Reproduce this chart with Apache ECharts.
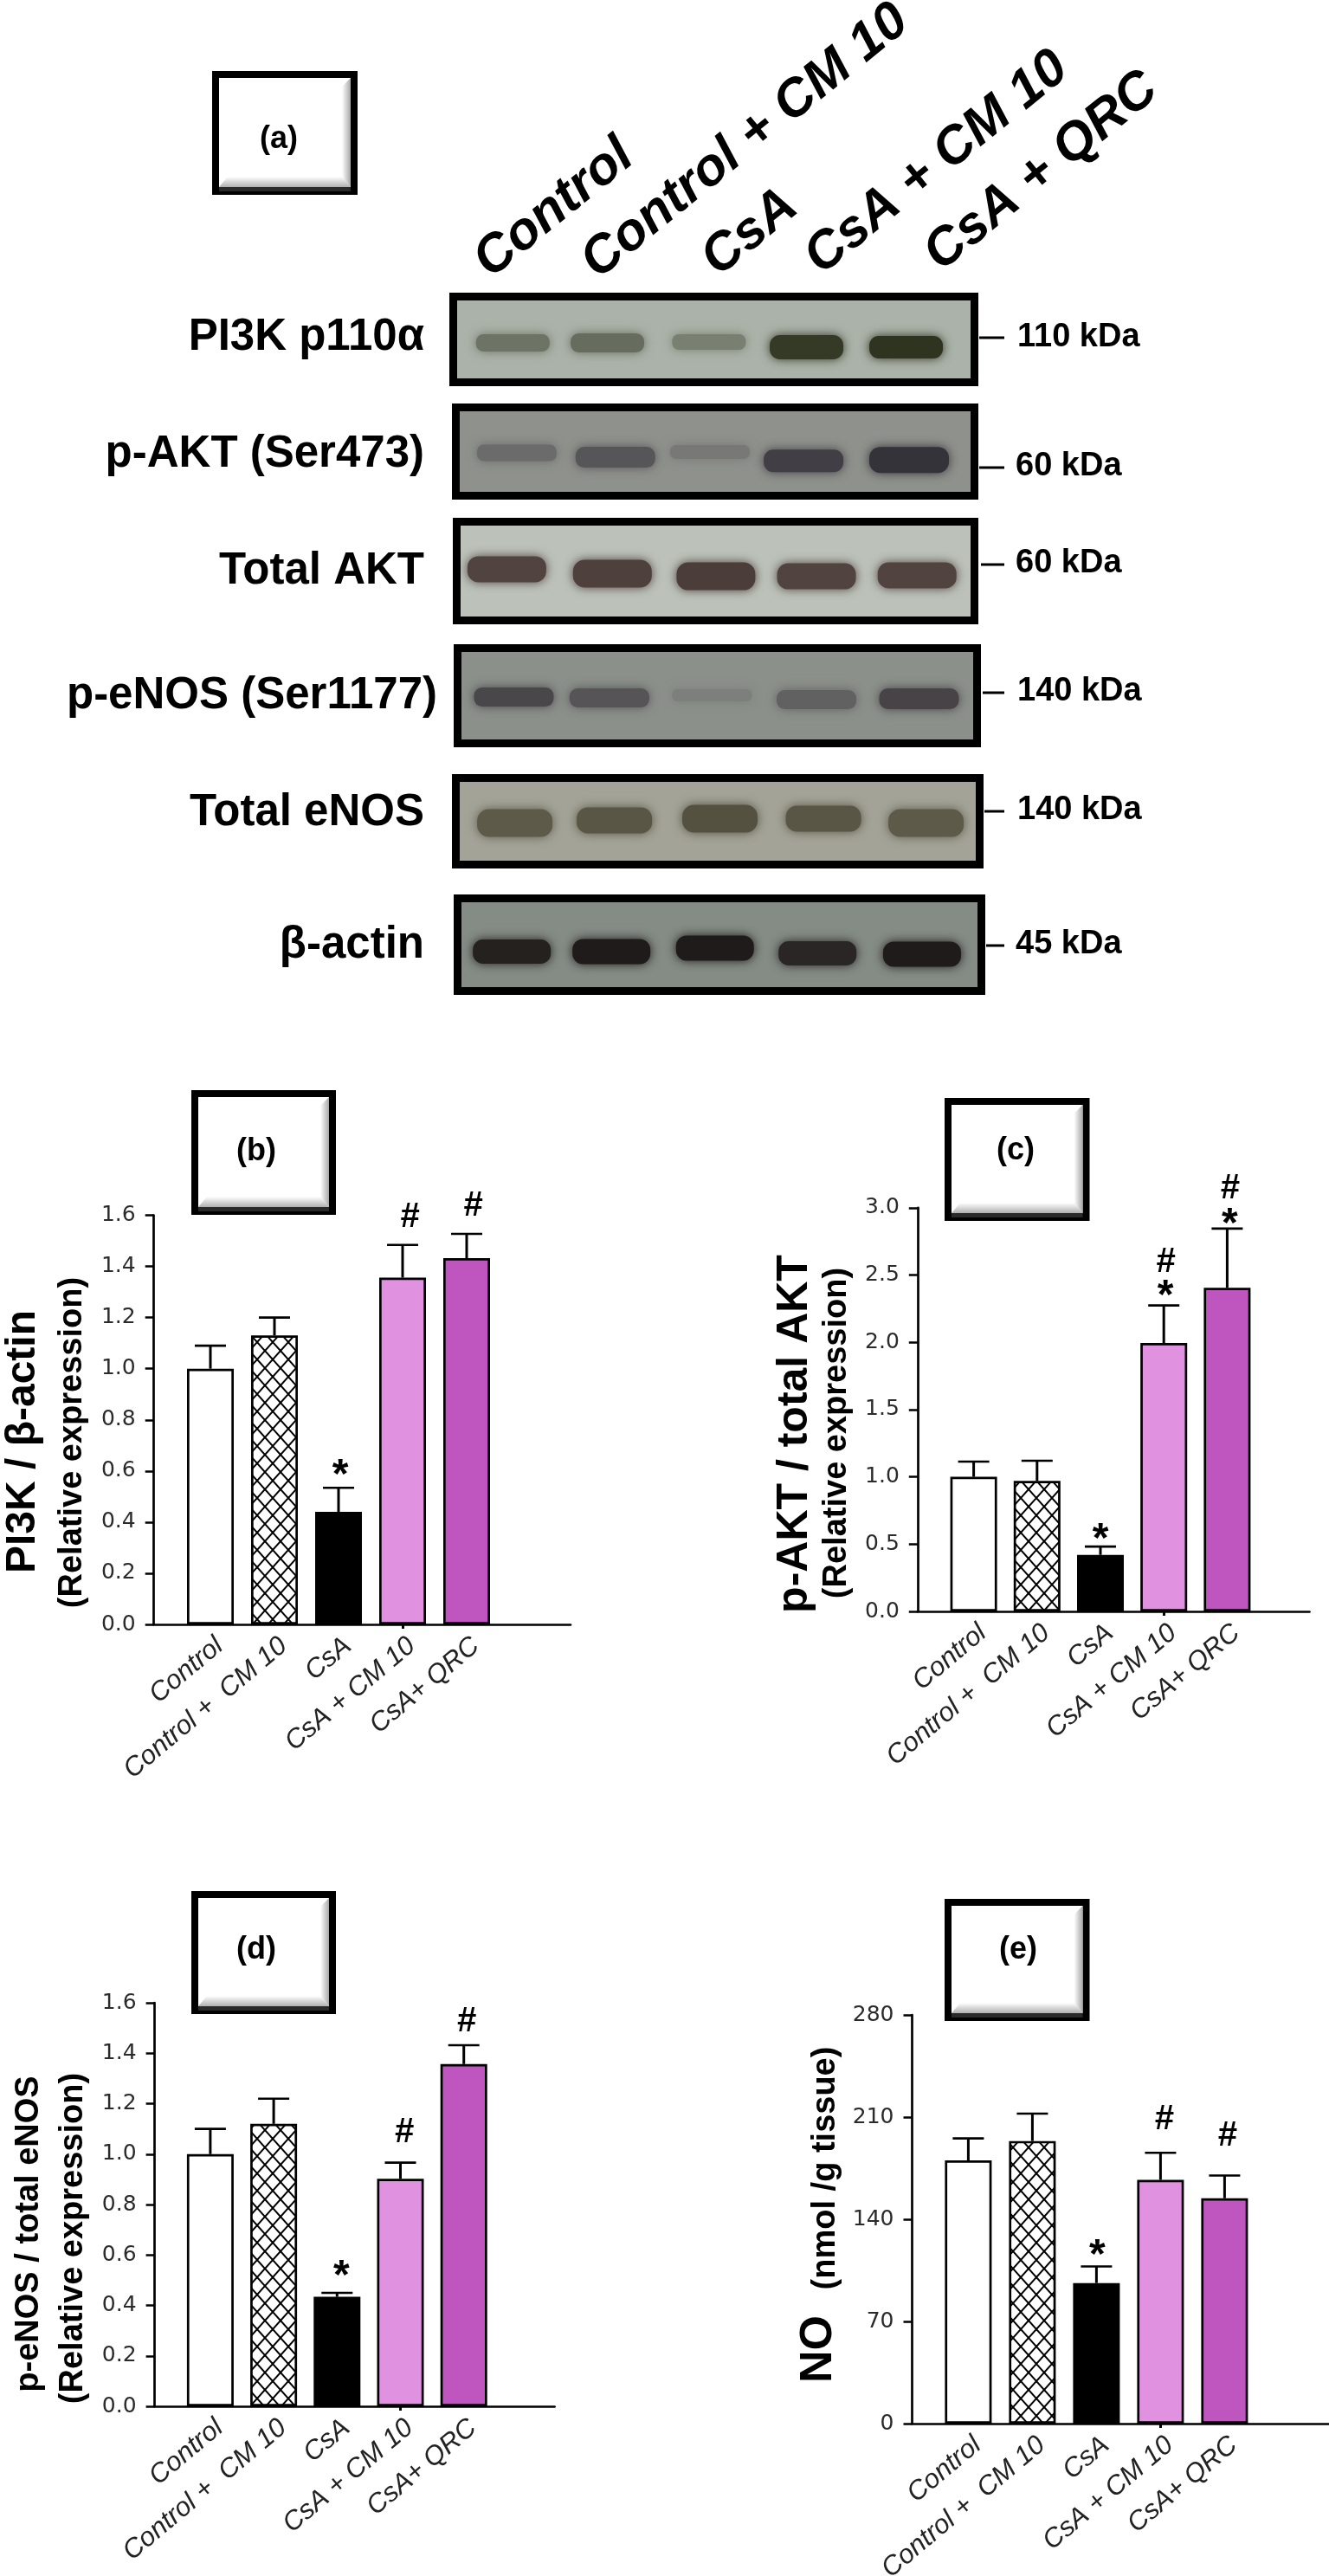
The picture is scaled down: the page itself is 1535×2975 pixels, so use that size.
<!DOCTYPE html>
<html><head><meta charset="utf-8"><title>Western blot and bar charts</title>
<style>html,body{margin:0;padding:0;background:#fff}#c{width:1535px;height:2975px}</style>
<script src="https://cdn.jsdelivr.net/npm/echarts@6/dist/echarts.min.js"></script>
</head><body><div id="c"></div>
<script>
// ---------- chart data ----------
const categories = ['Control', 'Control +  CM 10', 'CsA', 'CsA + CM 10', 'CsA+ QRC'];
const meanB = [1.00, 1.13, 0.44, 1.356, 1.432];
const upperB = [1.09, 1.20, 0.534, 1.484, 1.527];
const marksB = ['', '', '*', '#', '#'];
const meanC = [1.00, 0.97, 0.42, 1.995, 2.405];
const upperC = [1.113, 1.12, 0.482, 2.274, 2.845];
const marksC = ['', '', '*', '#*', '#*'];
const meanD = [1.00, 1.12, 0.434, 0.902, 1.357];
const upperD = [1.10, 1.22, 0.45, 0.966, 1.432];
const marksD = ['', '', '*', '#', '#'];
const meanE = [180.3, 193.6, 96.3, 167, 154.4];
const upperE = [195.4, 212.4, 107.7, 185.5, 170];
const marksE = ['', '', '*', '#', '#'];

// ---------- blot data: band density per lane ----------
const laneTitles = ['Control', 'Control + CM 10', 'CsA', 'CsA + CM 10', 'CsA + QRC'];
const blotNames = ['PI3K p110α', 'p-AKT (Ser473)', 'Total AKT', 'p-eNOS (Ser1177)', 'Total eNOS', 'β-actin'];
const blotSizes = ['110 kDa', '60 kDa', '60 kDa', '140 kDa', '140 kDa', '45 kDa'];
const densityPI3K = [.5, .55, .4, .95, 1];
const densityPAKT = [.4, .62, .25, .85, .98];
const densityTAKT = [.95, .98, 1, .95, .95];
const densityPENOS = [.85, .7, .2, .55, .9];
const densityTENOS = [.85, .9, .95, .9, .85];
const densityActin = [.95, 1, 1, .9, 1];
const lanePosPI3K = [.02, .97, 1.99, 2.97, 3.97];
const lanePosPAKT = [.06, 1.05, 2.0, 2.94, 4.0];
const lanePosTAKT = [-.04, 1.02, 2.06, 3.07, 4.08];
const lanePosPENOS = [.03, .99, 2.02, 3.07, 4.10];
const lanePosTENOS = [.04, 1.04, 2.10, 3.14, 4.17];
const lanePosActin = [.01, 1.01, 2.05, 3.08, 4.13];
const migrationPI3K = [.544, .544, .533, .60, .60];
const migrationPAKT = [.516, .571, .505, .615, .604];
const migrationTAKT = [.48, .529, .558, .558, .548];
const migrationPENOS = [.515, .525, .495, .545, .535];
const migrationTENOS = [.522, .489, .467, .467, .522];
const migrationActin = [.582, .582, .541, .602, .612];

// ---------- layout & style ----------
const FONT = '"Liberation Sans", Arial, sans-serif';
const fills = ['#ffffff', null, '#000000', '#e092e0', '#bf55bf'];

function hatch() {
  const w = 18, h = 20, c = document.createElement('canvas');
  c.width = w; c.height = h;
  const g = c.getContext('2d');
  g.fillStyle = '#fff'; g.fillRect(0, 0, w, h);
  g.strokeStyle = '#000'; g.lineWidth = 2;
  g.beginPath();
  g.moveTo(0, 0); g.lineTo(w, h);
  g.moveTo(w, 0); g.lineTo(0, h);
  g.stroke();
  return c;
}
const hatchFill = { image: hatch(), repeat: 'repeat' };

function mix(a, b, t) {
  const p = s => [1, 3, 5].map(i => parseInt(s.substr(i, 2), 16));
  const A = p(a), B = p(b);
  return 'rgb(' + A.map((v, i) => Math.round(v + (B[i] - v) * t)).join(',') + ')';
}

const blots = [
  { x: 519, y: 338, w: 611, h: 108, bg: '#abb2a9', ink: '#2f3420', bw: 85, thick: [20, 22, 18, 28, 26], density: densityPI3K, lane: lanePosPI3K, mig: migrationPI3K, labelR: 490, labelY: 390, sizeX: 1175, sizeY: 390, tickX: 1131, tickY: 390 },
  { x: 522, y: 466, w: 608, h: 111, bg: '#8f918c', ink: '#333138', bw: 92, thick: [19, 24, 16, 26, 30], density: densityPAKT, lane: lanePosPAKT, mig: migrationPAKT, labelR: 490, labelY: 525, sizeX: 1173, sizeY: 539, tickX: 1131, tickY: 540 },
  { x: 523, y: 598, w: 607, h: 123, bg: '#bcc2ba', ink: '#4b3d3a', bw: 91, thick: [30, 32, 32, 30, 30], density: densityTAKT, lane: lanePosTAKT, mig: migrationTAKT, labelR: 490, labelY: 660, sizeX: 1173, sizeY: 651, tickX: 1133, tickY: 652 },
  { x: 524, y: 744, w: 609, h: 119, bg: '#8b908a', ink: '#3f3a40', bw: 92, thick: [22, 22, 14, 22, 24], density: densityPENOS, lane: lanePosPENOS, mig: migrationPENOS, labelR: 505, labelY: 804, sizeX: 1175, sizeY: 799, tickX: 1135, tickY: 800 },
  { x: 522, y: 894, w: 614, h: 109, bg: '#a3a398', ink: '#514d3c', bw: 87, thick: [32, 30, 32, 30, 32], density: densityTENOS, lane: lanePosTENOS, mig: migrationTENOS, labelR: 490, labelY: 939, sizeX: 1175, sizeY: 936, tickX: 1137, tickY: 937 },
  { x: 524, y: 1033, w: 614, h: 116, bg: '#858c85', ink: '#1f1b1a', bw: 90, thick: [28, 29, 29, 28, 29], density: densityActin, lane: lanePosActin, mig: migrationActin, labelR: 490, labelY: 1092, sizeX: 1173, sizeY: 1091, tickX: 1139, tickY: 1092 }
];

const panels = [
  { mean: meanB, upper: upperB, marks: marksB, ymax: 1.6, step: 0.2, digits: 1, axisX: 177.7, top: 1403.5, bottom: 1876, right: 659, left: 206, width: 370,
    gapStar: [0, 0, 14, 0, 0], gapHash: [0, 0, 0, 32, 32], dx: [0, 0, 2, 8, 7] },
  { mean: meanC, upper: upperC, marks: marksC, ymax: 3, step: 0.5, digits: 1, axisX: 1059.8, top: 1394.8, bottom: 1861, right: 1512.5, left: 1088, width: 366,
    gapStar: [0, 0, 7, 10, 4], gapHash: [0, 0, 0, 50, 46], dx: [0, 0, 0, 2, 3] },
  { mean: meanD, upper: upperD, marks: marksD, ymax: 1.6, step: 0.2, digits: 1, axisX: 178.6, top: 2313, bottom: 2779, right: 640.6, left: 206.3, width: 366,
    gapStar: [0, 0, 18, 0, 0], gapHash: [0, 0, 0, 35, 26.5], dx: [0, 0, 5, 4, 3] },
  { mean: meanE, upper: upperE, marks: marksE, ymax: 280, step: 70, digits: 0, axisX: 1053.5, top: 2327, bottom: 2799, right: 1535, left: 1081.4, width: 370,
    gapStar: [0, 0, 12, 0, 0], gapHash: [0, 0, 0, 38, 45], dx: [0, 0, 1, 4, 3] }
];

const tags = [
  { t: '(a)', x: 245, y: 82, w: 168, h: 143, tx: 322, ty: 161 },
  { t: '(b)', x: 221, y: 1259, w: 167, h: 144, tx: 296, ty: 1330 },
  { t: '(c)', x: 1091, y: 1268, w: 167.5, h: 142, tx: 1173, ty: 1329 },
  { t: '(d)', x: 221, y: 2184, w: 167, h: 142, tx: 296, ty: 2252 },
  { t: '(e)', x: 1091, y: 2193, w: 167.5, h: 141, tx: 1176, ty: 2252 }
];

const yTitles = [
  { t: 'PI3K / β-actin', x: 27, y: 1665, size: 48 },
  { t: '(Relative expression)', x: 84, y: 1666, size: 38 },
  { t: 'p-AKT / total AKT', x: 918, y: 1656, size: 50 },
  { t: '(Relative expression)', x: 967, y: 1655, size: 38 },
  { t: 'p-eNOS / total eNOS', x: 34, y: 2580, size: 38 },
  { t: '(Relative expression)', x: 85, y: 2585, size: 38 },
  { t: 'NO', x: 946, y: 2713, size: 52 },
  { t: '(nmol /g tissue)', x: 954, y: 2504, size: 38 }
];

const laneAnchors = [[575, 333], [699, 334], [838, 331], [957, 329], [1095, 325]];

// ---------- option assembly ----------
const grid = [], xAxis = [], yAxis = [], series = [], graphic = [];

function txt(t, x, y, font, align, vAlign, rot, fill) {
  return { type: 'text', x, y, rotation: rot || 0, z: 5,
    style: { text: t, font, fill: fill || '#000', align, verticalAlign: vAlign, textAlign: align, textVerticalAlign: vAlign } };
}

// Blots
blots.forEach((b, r) => {
  const inset = 4.5, gi = grid.length, innerW = b.w - 18, innerH = b.h - 18;
  grid.push({ left: b.x + inset, top: b.y + inset, width: b.w - 9, height: b.h - 9, show: true, outerBoundsMode: 'none',
    backgroundColor: b.bg, borderColor: '#000', borderWidth: 9 });
  const innerLeft = b.x + 9;
  xAxis.push({ type: 'value', gridIndex: gi, show: false,
    min: (innerLeft - inset - 590) / 115, max: (innerLeft + innerW + inset - 590) / 115 });
  yAxis.push({ type: 'value', gridIndex: gi, show: false, inverse: true,
    min: -inset / innerH, max: 1 + inset / innerH });
  series.push({
    type: 'custom', name: blotNames[r], xAxisIndex: gi, yAxisIndex: gi, silent: true, clip: false,
    data: b.lane.map((l, i) => [l, b.mig[i], b.density[i]]),
    encode: { x: 0, y: 1 },
    renderItem(params, api) {
      const p = api.coord([api.value(0), api.value(1)]);
      const fill = mix(b.bg, b.ink, api.value(2));
      const th = b.thick[params.dataIndex];
      return { type: 'rect',
        shape: { x: p[0] - b.bw / 2, y: p[1] - th / 2, width: b.bw, height: th, r: th * 0.42 },
        style: { fill, shadowBlur: 12, shadowColor: fill } };
    }
  });
  graphic.push(txt(blotNames[r], b.labelR, b.labelY, 'bold 51px ' + FONT, 'right', 'middle'));
  graphic.push(txt(blotSizes[r], b.sizeX, b.sizeY, 'bold 38px ' + FONT, 'left', 'middle'));
  graphic.push({ type: 'line', z: 5, shape: { x1: b.tickX, y1: b.tickY, x2: 1160, y2: b.tickY }, style: { stroke: '#000', lineWidth: 3 } });
});

laneTitles.forEach((t, i) => {
  graphic.push(txt(t, laneAnchors[i][0], laneAnchors[i][1], 'italic bold 61px ' + FONT, 'left', 'bottom', 39 * Math.PI / 180));
});

// Bar panels
panels.forEach((p) => {
  const h = p.bottom - p.top;
  const outer = grid.length;
  grid.push({ left: p.axisX, top: p.top, width: p.right - p.axisX, height: h, outerBoundsMode: 'none' });
  xAxis.push({ type: 'value', gridIndex: outer, min: 0, max: 1, position: 'bottom',
    axisLine: { show: true, lineStyle: { color: '#000', width: 2.7 } }, axisTick: { show: false }, axisLabel: { show: false }, splitLine: { show: false } });
  yAxis.push({ type: 'value', gridIndex: outer, min: 0, max: p.ymax, interval: p.step,
    axisLine: { show: true, lineStyle: { color: '#000', width: 2.7 } },
    axisTick: { show: true, length: 10, lineStyle: { color: '#000', width: 2.5 } },
    splitLine: { show: false },
    axisLabel: { margin: 21, color: '#2b2b2b', fontSize: 25, fontFamily: '"DejaVu Sans"', formatter: v => v.toFixed(p.digits) } });
  const inner = grid.length;
  grid.push({ left: p.left, top: p.top, width: p.width, height: h, outerBoundsMode: 'none' });
  xAxis.push({ type: 'category', gridIndex: inner, data: categories,
    axisLine: { show: false },
    axisTick: { show: true, alignWithLabel: true, length: 5, interval: i => i === 3, lineStyle: { color: '#000', width: 3 } },
    axisLabel: { interval: 0, rotate: 40, margin: 30, color: '#222', fontSize: 31, fontStyle: 'italic', fontFamily: FONT, padding: [0, -14, 0, 0] } });
  yAxis.push({ type: 'value', gridIndex: inner, min: 0, max: p.ymax, show: false });
  series.push({
    type: 'bar', xAxisIndex: inner, yAxisIndex: inner, barWidth: 54, silent: true,
    data: p.mean.map((v, i) => ({ value: v, itemStyle: { color: fills[i] || hatchFill, borderColor: '#000', borderWidth: 2.7 } }))
  });
  series.push({
    type: 'custom', xAxisIndex: inner, yAxisIndex: inner, silent: true, clip: false, z: 4,
    data: p.mean.map((v, i) => [i, v, p.upper[i]]),
    encode: { x: 0, y: [1, 2] },
    renderItem(params, api) {
      const i = params.dataIndex;
      const a = api.coord([api.value(0), api.value(1)]);
      const b = api.coord([api.value(0), api.value(2)]);
      const kids = [
        { type: 'line', shape: { x1: a[0], y1: a[1], x2: b[0], y2: b[1] }, style: { stroke: '#000', lineWidth: 3 } },
        { type: 'line', shape: { x1: b[0] - 18, y1: b[1], x2: b[0] + 18, y2: b[1] }, style: { stroke: '#000', lineWidth: 2.6 } }
      ];
      const m = p.marks[i];
      if (m.indexOf('#') >= 0) kids.push({ type: 'text', style: { text: '#', x: b[0] + p.dx[i], y: b[1] - p.gapHash[i], font: 'italic bold 40px ' + FONT, fill: '#000', align: 'center', verticalAlign: 'middle' } });
      if (m.indexOf('*') >= 0) kids.push({ type: 'text', style: { text: '*', x: b[0] + p.dx[i], y: b[1] - p.gapStar[i], font: 'bold 48px ' + FONT, fill: '#000', align: 'center', verticalAlign: 'middle' } });
      return { type: 'group', children: kids };
    }
  });
});

// Bevelled panel tags
tags.forEach(b => {
  const l = b.x + 8, t = b.y + 8, r = b.x + b.w - 8, bt = b.y + b.h - 9;
  graphic.push({ type: 'rect', z: 3, shape: { x: b.x, y: b.y, width: b.w, height: b.h }, style: { fill: '#000' } });
  graphic.push({ type: 'rect', z: 3, shape: { x: l, y: t, width: r - l, height: bt - t }, style: { fill: '#fff' } });
  graphic.push({ type: 'polygon', z: 3, shape: { points: [[r, t], [r, bt], [r - 10, bt - 12], [r - 10, t + 10]] },
    style: { fill: new echarts.graphic.LinearGradient(0, 0, 1, 0, [{ offset: 0, color: '#ffffff' }, { offset: 1, color: '#a8a8a8' }]) } });
  graphic.push({ type: 'polygon', z: 3, shape: { points: [[l, bt], [r, bt], [r - 10, bt - 12], [l + 10, bt - 12]] },
    style: { fill: new echarts.graphic.LinearGradient(0, 0, 0, 1, [{ offset: 0, color: '#ffffff' }, { offset: 1, color: '#b0b0b0' }]) } });
  graphic.push({ type: 'rect', z: 3, shape: { x: b.x + 8, y: b.y + b.h - 9, width: b.w - 16, height: 5 }, style: { fill: '#2a2a2a' } });
  graphic.push(txt(b.t, b.tx, b.ty, 'bold 36px ' + FONT, 'center', 'middle'));
});

yTitles.forEach(a => graphic.push(txt(a.t, a.x, a.y, 'bold ' + a.size + 'px ' + FONT, 'center', 'middle', Math.PI / 2)));

const chart = echarts.init(document.getElementById('c'), null, { renderer: 'canvas', width: 1535, height: 2975 });
chart.setOption({ animation: false, backgroundColor: '#ffffff', tooltip: { show: false }, grid, xAxis, yAxis, series, graphic });
</script></body></html>
